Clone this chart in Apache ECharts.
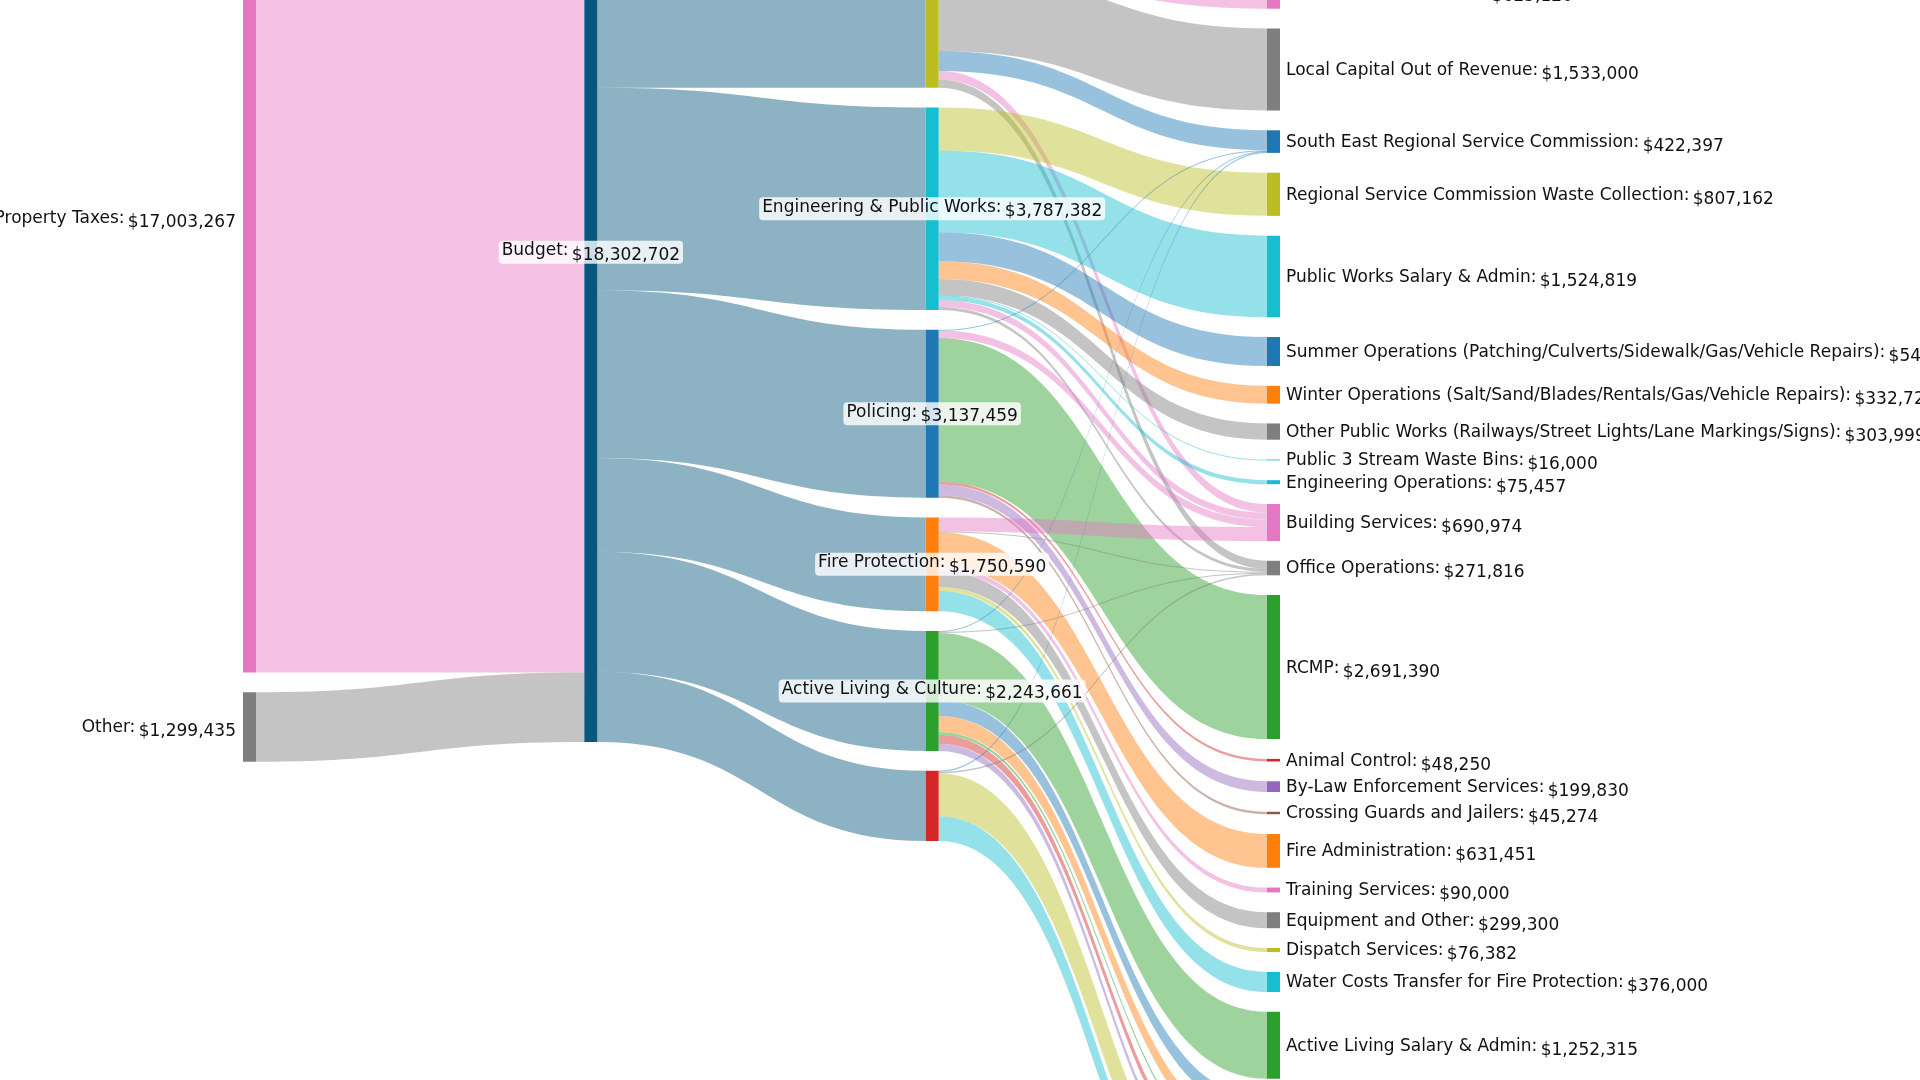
<!DOCTYPE html>
<html><head><meta charset="utf-8">
<script src="https://cdn.jsdelivr.net/npm/echarts@6/dist/echarts.min.js"></script>
<style>html,body{margin:0;padding:0;background:#fff;overflow:hidden}#c{width:1920px;height:1080px}</style>
</head><body><div id="c"></div>
<script>
// ---------------- data ----------------
const revenueSources = ['Property Taxes', 'Other'];
const revenueAmounts = [17003267, 1299435];

const departments = ['Finance & Admin', 'Engineering & Public Works', 'Policing', 'Fire Protection', 'Active Living & Culture', 'Other Departments'];
const departmentAmounts = [6073524, 3787382, 3137459, 1750590, 2243661, 1310086];

// spending items (right column, top to bottom)
const items = [
  'Finance & Admin (unlisted 1)', 'Finance & Admin (unlisted 2)', 'General Administration',
  'Local Capital Out of Revenue', 'South East Regional Service Commission',
  'Regional Service Commission Waste Collection', 'Public Works Salary & Admin',
  'Summer Operations (Patching/Culverts/Sidewalk/Gas/Vehicle Repairs)',
  'Winter Operations (Salt/Sand/Blades/Rentals/Gas/Vehicle Repairs)',
  'Other Public Works (Railways/Street Lights/Lane Markings/Signs)',
  'Public 3 Stream Waste Bins', 'Engineering Operations', 'Building Services', 'Office Operations',
  'RCMP', 'Animal Control', 'By-Law Enforcement Services', 'Crossing Guards and Jailers',
  'Fire Administration', 'Training Services', 'Equipment and Other', 'Dispatch Services',
  'Water Costs Transfer for Fire Protection', 'Active Living Salary & Admin',
  'Active Living (unlisted 1)', 'Active Living (unlisted 2)', 'Active Living (unlisted 3)',
  'Active Living (unlisted 4)', 'Active Living (unlisted 5)',
  'Other Departments (unlisted 1)', 'Other Departments (unlisted 2)'
];

const spendFrom = [
  'Finance & Admin','Finance & Admin','Finance & Admin','Finance & Admin','Finance & Admin','Finance & Admin','Finance & Admin',
  'Engineering & Public Works','Engineering & Public Works','Engineering & Public Works','Engineering & Public Works','Engineering & Public Works',
  'Engineering & Public Works','Engineering & Public Works','Engineering & Public Works','Engineering & Public Works',
  'Policing','Policing','Policing','Policing','Policing','Policing',
  'Fire Protection','Fire Protection','Fire Protection','Fire Protection','Fire Protection','Fire Protection','Fire Protection',
  'Active Living & Culture','Active Living & Culture','Active Living & Culture','Active Living & Culture','Active Living & Culture',
  'Active Living & Culture','Active Living & Culture','Active Living & Culture',
  'Other Departments','Other Departments','Other Departments','Other Departments'
];
const spendTo = [
  'Finance & Admin (unlisted 1)','Finance & Admin (unlisted 2)','General Administration','Local Capital Out of Revenue',
  'South East Regional Service Commission','Building Services','Office Operations',
  'Regional Service Commission Waste Collection','Public Works Salary & Admin',
  'Summer Operations (Patching/Culverts/Sidewalk/Gas/Vehicle Repairs)',
  'Winter Operations (Salt/Sand/Blades/Rentals/Gas/Vehicle Repairs)',
  'Other Public Works (Railways/Street Lights/Lane Markings/Signs)',
  'Public 3 Stream Waste Bins','Engineering Operations','Building Services','Office Operations',
  'South East Regional Service Commission','Building Services','RCMP','Animal Control','By-Law Enforcement Services','Crossing Guards and Jailers',
  'Building Services','Office Operations','Fire Administration','Training Services','Equipment and Other','Dispatch Services',
  'Water Costs Transfer for Fire Protection',
  'South East Regional Service Commission','Office Operations','Active Living Salary & Admin',
  'Active Living (unlisted 1)','Active Living (unlisted 2)','Active Living (unlisted 3)','Active Living (unlisted 4)','Active Living (unlisted 5)',
  'South East Regional Service Commission','Office Operations','Other Departments (unlisted 1)','Other Departments (unlisted 2)'
];
const spendAmounts = [
  1600000, 1632253, 625120, 1533000, 372397, 160754, 150000,
  807162, 1524819, 542000, 332725, 303999, 16000, 75457, 130220, 55000,
  12715, 140000, 2691390, 48250, 199830, 45274,
  260000, 17457, 631451, 90000, 299300, 76382, 376000,
  17000, 22000, 1252315, 300000, 295000, 60000, 160000, 137346,
  20285, 27359, 800000, 462442
];

// ---------------- styles ----------------
const C = {blue:'#1f77b4', orange:'#ff7f0e', green:'#2ca02c', red:'#d62728', purple:'#9467bd',
  brown:'#8c564b', pink:'#e377c2', grey:'#7f7f7f', olive:'#bcbd22', cyan:'#17becf', teal:'#07577e'};
const itemColors = [C.purple, C.brown, C.pink, C.grey, C.blue, C.olive, C.cyan, C.blue, C.orange, C.grey,
  C.cyan, C.cyan, C.pink, C.grey, C.green, C.red, C.purple, C.brown, C.orange, C.pink, C.grey, C.olive,
  C.cyan, C.green, C.blue, C.orange, C.green, C.red, C.purple, C.olive, C.cyan];
const colorOf = {'Property Taxes': C.pink, 'Other': C.grey, 'Budget': C.teal};
[C.olive, C.cyan, C.blue, C.orange, C.green, C.red].forEach((c, i) => colorOf[departments[i]] = c);
items.forEach((n, i) => colorOf[n] = itemColors[i]);
const hiddenLabel = new Set(['Other Departments']);

// ---------------- build ----------------
const links = [];
revenueSources.forEach((s, i) => links.push({source: s, target: 'Budget', value: revenueAmounts[i]}));
departments.forEach((d, i) => links.push({source: 'Budget', target: d, value: departmentAmounts[i]}));
spendFrom.forEach((f, i) => links.push({source: f, target: spendTo[i], value: spendAmounts[i]}));

const depthOf = {};
revenueSources.forEach(n => depthOf[n] = 0);
depthOf['Budget'] = 1;
departments.forEach(n => depthOf[n] = 2);
items.forEach(n => depthOf[n] = 3);

const inSum = {}, outSum = {};
links.forEach(l => {
  outSum[l.source] = (outSum[l.source] || 0) + l.value;
  inSum[l.target] = (inSum[l.target] || 0) + l.value;
});
links.forEach(l => {
  l.lineStyle = {color: depthOf[l.target] === 3 ? colorOf[l.target] : colorOf[l.source]};
});

const FONT = 'DejaVu Sans';
const base = {fontSize: 17, fontFamily: FONT, color: '#111'};
const richSide = {
  n: Object.assign({}, base, {padding: [2, 0, 0, 0]}),
  v: Object.assign({}, base, {padding: [10, 0, 0, 0]})
};
const richMid = {
  n: Object.assign({}, base, {padding: [0, 0, 3, 0]}),
  v: Object.assign({}, base, {padding: [6, 0, 0, 0]})
};
const allNames = [...revenueSources, 'Budget', ...departments, ...items];
const nodes = allNames.map(name => {
  const d = depthOf[name];
  const label = {show: !hiddenLabel.has(name)};
  if (d === 0) { label.position = 'left'; label.distance = 7; label.rich = richSide; }
  else if (d === 3) { label.position = 'right'; label.distance = 6; label.rich = richSide; }
  else {
    label.position = 'inside';
    label.rich = richMid;
    label.backgroundColor = 'rgba(255,255,255,0.8)';
    label.borderRadius = 4;
    label.padding = [0, 3, 0, 3];
  }
  return {
    name: name,
    value: Math.max(inSum[name] || 0, outSum[name] || 0),
    itemStyle: {color: colorOf[name], borderWidth: 0},
    label: label
  };
});

const chart = echarts.init(document.getElementById('c'), null, {renderer: 'canvas'});
chart.setOption({
  animation: false,
  backgroundColor: '#ffffff',
  series: [{
    type: 'sankey',
    left: 243, top: -237.3, width: 1037, height: 1573.2,
    nodeWidth: 13, nodeGap: 19.8,
    layoutIterations: 0,
    nodeAlign: 'justify',
    draggable: false,
    emphasis: {disabled: true},
    data: nodes,
    links: links,
    lineStyle: {curveness: 0.5, opacity: 0.46},
    label: {
      formatter: p => `{n|${p.name}:} {v|$${Number(p.value).toLocaleString('en-US')}}`
    }
  }]
});
</script></body></html>
